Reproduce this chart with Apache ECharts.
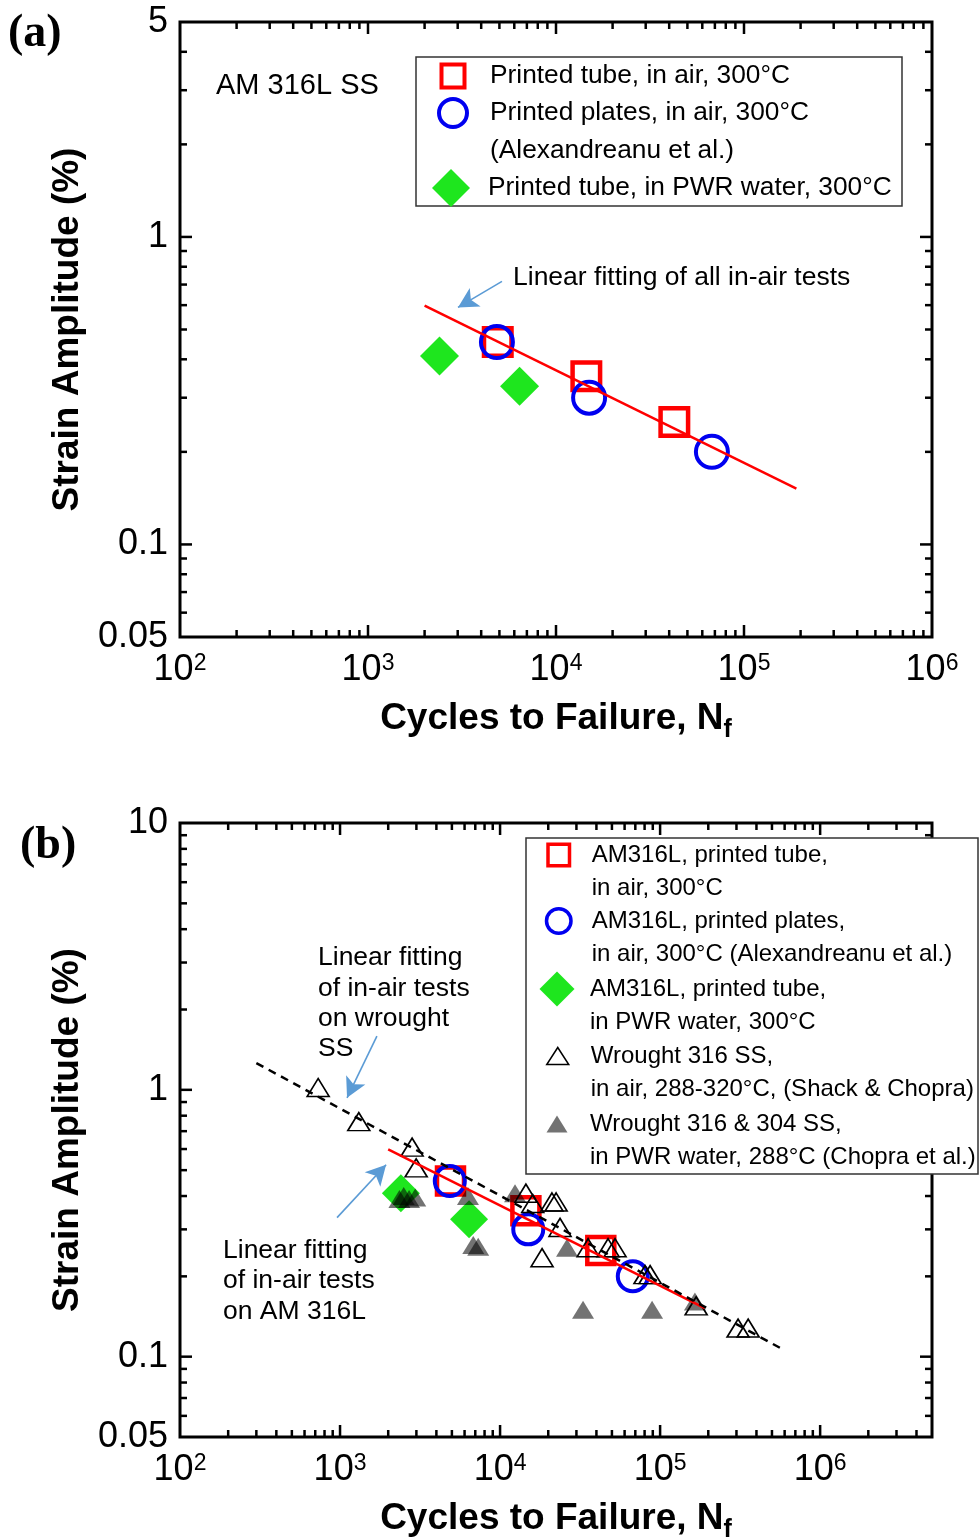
<!DOCTYPE html>
<html>
<head>
<meta charset="utf-8">
<script src="https://cdn.jsdelivr.net/npm/echarts@6.0.0/dist/echarts.min.js"></script>
<style>
  html, body { margin: 0; padding: 0; background: #fff; }
  #c { width: 980px; height: 1538px; }
</style>
</head>
<body>
<div id="c"></div>
<script>
// ---- AM 316L stainless steel: fatigue life data ----
// Printed tube tested in air at 300 °C  [cycles to failure, strain amplitude %]
const tubeAir = [[4900, 0.455], [14500, 0.352], [42600, 0.25]];
// Printed plates tested in air at 300 °C (Alexandreanu et al.)
const platesAir = [[4850, 0.455], [15000, 0.30], [67500, 0.20]];
// Printed tube tested in PWR water at 300 °C
const tubePWR = [[2400, 0.41], [6400, 0.327]];
// Linear fit of all in-air AM tests (end points)
const amFit = [[2000, 0.598], [190000, 0.152]];

// Wrought 316 SS in air, 288-320 °C (Shack & Chopra)
const wroughtAir = [
  [730, 1.02], [1310, 0.76], [2820, 0.61], [2990, 0.51],
  [14500, 0.41], [16000, 0.375], [21100, 0.38], [22400, 0.38],
  [23700, 0.305], [18300, 0.235], [35500, 0.256], [47300, 0.256],
  [52300, 0.256], [80500, 0.203], [86600, 0.203], [168000, 0.155],
  [307000, 0.128], [355000, 0.128]
];
// Wrought 316 & 304 SS in PWR water, 288 °C (Chopra et al.)
const wroughtPWR = [
  [2350, 0.39], [2500, 0.40], [2700, 0.39], [2950, 0.395],
  [6300, 0.40], [6800, 0.262], [7300, 0.258], [12400, 0.41],
  [26200, 0.256], [33000, 0.15], [89100, 0.15], [165000, 0.161]
];
// Linear fit of in-air tests on wrought SS (end points)
const wroughtFit = [[300, 1.26], [560000, 0.108]];

// Tick labels
const xLabelExps = [2, 3, 4, 5, 6];
const yLabelsA = [0.05, 0.1, 1, 5];
const yLabelsB = [0.05, 0.1, 1, 10];

const FF = '"Liberation Sans", Arial, Helvetica, sans-serif';
const RED = '#ff0000', BLUE = '#0000f0', GREEN = '#1ee61e', ARROW = '#5b9bd5';

const GRIDS = [
  { left: 180, top: 22, width: 752, height: 615 },
  { left: 180, top: 823, width: 752, height: 614 }
];
const EXT = [
  { x: [100, 1e6], y: [0.05, 5] },
  { x: [100, 5e6], y: [0.05, 10] }
];

function xFmt(v) {
  const e = Math.log10(v), r = Math.round(e);
  if (Math.abs(e - r) > 1e-6 || xLabelExps.indexOf(r) < 0) return '';
  return '{b|10}{s|' + r + '}';
}
function yFmt(list) {
  return v => {
    const n = +(+v).toPrecision(6);
    return list.indexOf(n) >= 0 ? String(n) : '';
  };
}

function xAxis(g) {
  return {
    type: 'log', logBase: 10, gridIndex: g, min: EXT[g].x[0], max: EXT[g].x[1],
    axisLine: { show: false }, axisTick: { show: false }, splitLine: { show: false },
    axisLabel: {
      formatter: xFmt, margin: 15, color: '#000',
      rich: {
        b: { fontFamily: FF, fontSize: 36, color: '#000' },
        s: { fontFamily: FF, fontSize: 23, color: '#000', verticalAlign: 'top' }
      }
    },
    name: '{t|Cycles to Failure, N}{f|f}', nameLocation: 'middle', nameGap: 63,
    nameTextStyle: {
      rich: {
        t: { fontFamily: FF, fontSize: 37, fontWeight: 'bold', color: '#000', padding: [0, 0, 6, 0] },
        f: { fontFamily: FF, fontSize: 25, fontWeight: 'bold', color: '#000', verticalAlign: 'bottom' }
      }
    }
  };
}
function yAxis(g, labels) {
  return {
    type: 'log', logBase: 10, gridIndex: g, min: EXT[g].y[0], max: EXT[g].y[1],
    axisLine: { show: false }, axisTick: { show: false }, splitLine: { show: false },
    axisLabel: {
      formatter: yFmt(labels), margin: 12, color: '#000',
      fontFamily: FF, fontSize: 36, showMinLabel: true, showMaxLabel: true
    },
    name: 'Strain Amplitude (%)', nameLocation: 'middle', nameGap: 94,
    nameTextStyle: { fontFamily: FF, fontSize: 37, fontWeight: 'bold', color: '#000' }
  };
}

// Decade and sub-decade tick positions inside an extent
function logSteps(lo, hi) {
  const out = [];
  for (let e = Math.floor(Math.log10(lo)) - 1; e <= Math.ceil(Math.log10(hi)); e++) {
    for (let m = 1; m <= 9; m++) {
      const v = +(m * Math.pow(10, e)).toPrecision(6);
      if (v > lo * 1.0001 && v < hi * 0.9999) out.push([v, m === 1]);
    }
  }
  return out;
}
// Inward ticks on all four sides of a plot frame
function tickSeries(g) {
  const ex = EXT[g];
  const data = [];
  logSteps(ex.x[0], ex.x[1]).forEach(([v, maj]) => data.push([v, ex.y[0], maj ? 1 : 0]));
  logSteps(ex.y[0], ex.y[1]).forEach(([v, maj]) => data.push([ex.x[0], v, maj ? 3 : 2]));
  const st = { stroke: '#000', lineWidth: 2.5 };
  return {
    type: 'custom', xAxisIndex: g, yAxisIndex: g, silent: true, z: 2, clip: false,
    dimensions: ['x', 'y', 'k'], encode: { x: 0, y: 1 }, data,
    renderItem(params, api) {
      const k = api.value(2);
      const len = (k === 1 || k === 3) ? 12 : 7;
      if (k < 2) {
        const b = api.coord([api.value(0), ex.y[0]]);
        const t = api.coord([api.value(0), ex.y[1]]);
        return { type: 'group', children: [
          { type: 'line', shape: { x1: b[0], y1: b[1], x2: b[0], y2: b[1] - len }, style: st },
          { type: 'line', shape: { x1: t[0], y1: t[1], x2: t[0], y2: t[1] + len }, style: st }
        ] };
      }
      const l = api.coord([ex.x[0], api.value(1)]);
      const r = api.coord([ex.x[1], api.value(1)]);
      return { type: 'group', children: [
        { type: 'line', shape: { x1: l[0], y1: l[1], x2: l[0] + len, y2: l[1] }, style: st },
        { type: 'line', shape: { x1: r[0], y1: r[1], x2: r[0] - len, y2: r[1] }, style: st }
      ] };
    }
  };
}

function arrowLine(from, to) {
  return {
    silent: true, symbol: ['none', 'arrow'], symbolSize: [16, 20],
    label: { show: false }, emphasis: { disabled: true },
    lineStyle: { color: ARROW, width: 1.6, type: 'solid' },
    itemStyle: { color: ARROW },
    data: [[{ coord: from }, { coord: to }]]
  };
}

// Names of the series
const A1 = 'Printed tube, in air, 300°C';
const A2 = 'Printed plates, in air, 300°C\n(Alexandreanu et al.)';
const A3 = 'Printed tube, in PWR water, 300°C';
const B1 = 'AM316L, printed tube,\nin air, 300°C';
const B2 = 'AM316L, printed plates,\nin air, 300°C (Alexandreanu et al.)';
const B3 = 'AM316L, printed tube,\nin PWR water, 300°C';
const B4 = 'Wrought 316 SS,\nin air, 288-320°C, (Shack & Chopra)';
const B5 = 'Wrought 316 & 304 SS,\nin PWR water, 288°C (Chopra et al.)';

// One legend entry, icon centred at (cx, cy); a two-line label gets a blank
// leading line so that its first line sits level with the icon
function legendEntry(name, cx, cy, iw, ih, textX, lines, lh, size, border) {
  const padL = textX - (cx + iw / 2) - 5;
  const H = lines === 2 ? 3 * lh : Math.max(lh, ih);
  const o = {
    orient: 'vertical', left: cx - iw / 2, top: cy - H / 2, padding: 0, itemGap: 0,
    itemWidth: iw, itemHeight: ih, selectedMode: false, z: 5,
    data: [{ name }],
    formatter: lines === 2 ? (n => '\n' + n) : (n => n),
    textStyle: {
      fontFamily: FF, fontSize: size, lineHeight: lh, color: '#000',
      padding: [0, 0, 0, padL]
    }
  };
  if (border != null) o.itemStyle = { borderWidth: border };
  return o;
}

const openStyle = (c, w) => ({ color: 'rgba(0,0,0,0)', borderColor: c, borderWidth: w, opacity: 1 });

const option = {
  animation: false,
  backgroundColor: '#fff',
  grid: GRIDS.map(g => Object.assign({
    show: true, borderColor: '#000', borderWidth: 3, backgroundColor: 'transparent',
    containLabel: false, outerBoundsMode: 'none'
  }, g)),
  xAxis: [xAxis(0), xAxis(1)],
  yAxis: [yAxis(0, yLabelsA), yAxis(1, yLabelsB)],
  legend: [
    legendEntry(A1, 451, 76, 23, 23, 488, 1, 37.5, 26.3, 4),
    legendEntry(A2, 451, 113, 28, 28, 488, 2, 37.5, 26.3, 4),
    legendEntry(A3, 451, 188, 38, 38, 488, 1, 37.5, 26.3),
    legendEntry(B1, 557, 855, 21.5, 21.5, 590, 2, 33.6, 24, 3.5),
    legendEntry(B2, 557, 921, 24.5, 24.5, 590, 2, 33.6, 24, 3.5),
    legendEntry(B3, 557, 989, 35, 35, 590, 2, 33.6, 24),
    legendEntry(B4, 557, 1056, 22, 17, 590, 2, 33.6, 24, 1.5),
    legendEntry(B5, 557, 1124, 21, 17, 590, 2, 33.6, 24)
  ],
  graphic: [
    { type: 'rect', z: 1, shape: { x: 416, y: 57, width: 486, height: 149 },
      style: { fill: '#fff', stroke: '#333', lineWidth: 1.5 } },
    { type: 'rect', z: 3, shape: { x: 526, y: 838, width: 452, height: 336 },
      style: { fill: '#fff', stroke: '#333', lineWidth: 1.5 } },
    { type: 'text', z: 5, x: 8, y: 34,
      style: { text: '(a)', font: 'bold 46px "Liberation Serif", "Times New Roman", serif', fill: '#000', verticalAlign: 'middle' } },
    { type: 'text', z: 5, x: 20, y: 846,
      style: { text: '(b)', font: 'bold 46px "Liberation Serif", "Times New Roman", serif', fill: '#000', verticalAlign: 'middle' } },
    { type: 'text', z: 5, x: 216, y: 86,
      style: { text: 'AM 316L SS', font: '29px ' + FF, fill: '#000', verticalAlign: 'middle' } },
    { type: 'text', z: 5, x: 513, y: 278,
      style: { text: 'Linear fitting of all in-air tests', font: '26.5px ' + FF, fill: '#000', verticalAlign: 'middle' } },
    { type: 'text', z: 5, x: 318, y: 943,
      style: { text: 'Linear fitting\nof in-air tests\non wrought\nSS', font: '26.5px ' + FF, lineHeight: 30.3, fill: '#000', verticalAlign: 'top' } },
    { type: 'text', z: 5, x: 223, y: 1235,
      style: { text: 'Linear fitting\nof in-air tests\non AM 316L', font: '26.5px ' + FF, lineHeight: 30.5, fill: '#000', verticalAlign: 'top' } }
  ],
  series: [
    tickSeries(0),
    tickSeries(1),
    // panel (a)
    { name: A1, type: 'scatter', xAxisIndex: 0, yAxisIndex: 0, data: tubeAir,
      symbol: 'rect', symbolSize: 27.5, itemStyle: openStyle(RED, 4.5) },
    { name: A2, type: 'scatter', xAxisIndex: 0, yAxisIndex: 0, data: platesAir,
      symbol: 'circle', symbolSize: 32, itemStyle: openStyle(BLUE, 4) },
    { name: A3, type: 'scatter', xAxisIndex: 0, yAxisIndex: 0, data: tubePWR,
      symbol: 'diamond', symbolSize: 39, itemStyle: { color: GREEN, opacity: 1 } },
    { name: 'Linear fitting of all in-air tests', type: 'line', xAxisIndex: 0, yAxisIndex: 0,
      data: amFit, showSymbol: false, symbol: 'none', lineStyle: { color: RED, width: 2.5 },
      markLine: arrowLine([5160, 0.717], [3010, 0.590]) },
    // panel (b)
    { name: B1, type: 'scatter', xAxisIndex: 1, yAxisIndex: 1, data: tubeAir,
      symbol: 'rect', symbolSize: 27, itemStyle: openStyle(RED, 4.5) },
    { name: B2, type: 'scatter', xAxisIndex: 1, yAxisIndex: 1, data: platesAir,
      symbol: 'circle', symbolSize: 30, itemStyle: openStyle(BLUE, 4) },
    { name: B3, type: 'scatter', xAxisIndex: 1, yAxisIndex: 1, data: tubePWR,
      symbol: 'diamond', symbolSize: 38, itemStyle: { color: GREEN, opacity: 1 } },
    { name: B5, type: 'scatter', xAxisIndex: 1, yAxisIndex: 1, data: wroughtPWR,
      symbol: 'triangle', symbolSize: [22, 18], itemStyle: { color: 'rgba(0,0,0,0.55)', opacity: 1 } },
    { name: B4, type: 'scatter', xAxisIndex: 1, yAxisIndex: 1, data: wroughtAir,
      symbol: 'triangle', symbolSize: [22, 18], itemStyle: openStyle('#000', 1.6) },
    { name: 'Linear fitting of in-air tests on AM 316L', type: 'line', xAxisIndex: 1, yAxisIndex: 1,
      data: amFit, showSymbol: false, symbol: 'none', lineStyle: { color: RED, width: 2.5 },
      markLine: arrowLine([958, 0.332], [1940, 0.524]) },
    { name: 'Linear fitting of in-air tests on wrought SS', type: 'line', xAxisIndex: 1, yAxisIndex: 1,
      data: wroughtFit, showSymbol: false, symbol: 'none', lineStyle: { color: '#000', width: 2.5, type: [8, 6] },
      markLine: arrowLine([1700, 1.59], [1106, 0.933]) }
  ]
};

const chart = echarts.init(document.getElementById('c'), null, { renderer: 'canvas', width: 980, height: 1538 });
chart.setOption(option);
</script>
</body>
</html>
